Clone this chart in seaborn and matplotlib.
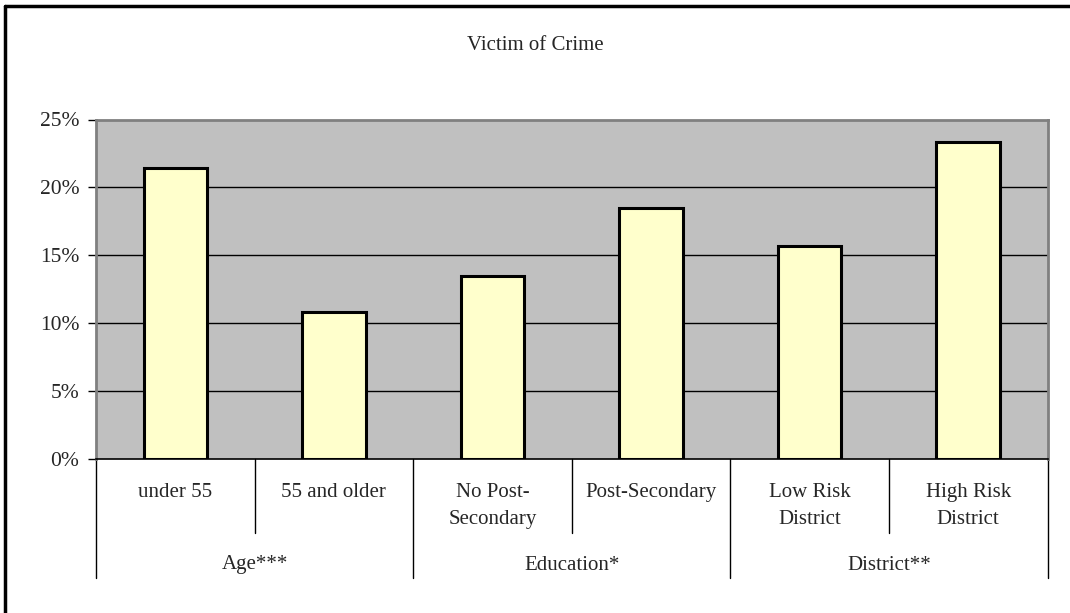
import pandas as pd
import seaborn as sns
import matplotlib.pyplot as plt
from matplotlib.lines import Line2D
from matplotlib.ticker import PercentFormatter

# Data
categories = ['under 55', '55 and older', 'No Post-\nSecondary',
              'Post-Secondary', 'Low Risk\nDistrict', 'High Risk\nDistrict']
groups = ['Age***', 'Education*', 'District**']
group_sizes = [2, 2, 2]
values = [21.45, 10.8, 13.5, 18.45, 15.65, 23.35]
y_ticks = [0, 5, 10, 15, 20, 25]


def main():
    sns.set_style('white')
    plt.rcParams['font.family'] = ['Liberation Serif', 'DejaVu Serif']
    fs = 15

    data = pd.DataFrame({'cat': categories, 'val': values})

    fig = plt.figure(figsize=(10.70, 6.13), dpi=100)
    ax = fig.add_axes([96 / 1070, 1 - 459 / 613,
                       951.5 / 1070, 339.5 / 613])
    ax.set_facecolor('#C0C0C0')

    sns.barplot(data=data, x='cat', y='val', color='#FFFFCC',
                saturation=1, edgecolor='black', linewidth=2.2,
                width=0.4, ax=ax, zorder=3)

    ax.set_xlim(-0.5, len(categories) - 0.5)
    ax.set_ylim(0, 25)
    ax.set_yticks(y_ticks)
    ax.yaxis.set_major_formatter(PercentFormatter(decimals=0))
    ax.tick_params(axis='y', length=6, width=1, color='black',
                   labelsize=15.5, pad=6, left=True)
    ax.set_xticks([])
    ax.set_xlabel('')
    ax.set_ylabel('')
    for t in ax.get_yticklabels():
        t.set_fontfamily(['Liberation Serif', 'DejaVu Serif'])

    # black gridlines
    for y in y_ticks[1:-1]:
        ax.axhline(y, color='black', linewidth=1, zorder=1)

    for side in ['top', 'right', 'left']:
        ax.spines[side].set_color('#808080')
        ax.spines[side].set_linewidth(2)
    ax.spines['bottom'].set_color('black')
    ax.spines['bottom'].set_linewidth(1.2)
    ax.spines['bottom'].set_zorder(5)

    # multi-level category axis
    trans = ax.get_xaxis_transform()
    sub_depth = -(533 - 459) / 339.5
    grp_depth = -(578 - 459) / 339.5
    for i, lab in enumerate(categories):
        ax.text(i, -(483 - 459) / 339.5, lab, transform=trans,
                ha='center', va='top', fontsize=fs, linespacing=1.6)
    edges = [-0.5]
    for n in group_sizes:
        edges.append(edges[-1] + n)
    for i in range(len(categories) + 1):
        x = i - 0.5
        depth = grp_depth if x in edges else sub_depth
        ax.add_line(Line2D([x, x], [0, depth], transform=trans,
                           color='black', linewidth=1, clip_on=False))
    for g, lab in enumerate(groups):
        mid = (edges[g] + edges[g + 1]) / 2
        ax.text(mid, -(565 - 459) / 339.5, lab, transform=trans,
                ha='center', va='center', fontsize=fs)

    fig.text(0.5, 1 - 46 / 613, 'Victim of Crime', ha='center',
             va='center', fontsize=fs)

    # outer chart border (left and top edges visible)
    fig.add_artist(Line2D([5 / 1070, 5 / 1070], [0, 1 - 6 / 613],
                          transform=fig.transFigure, color='black',
                          linewidth=2.5))
    fig.add_artist(Line2D([5 / 1070, 1], [1 - 6 / 613, 1 - 6 / 613],
                          transform=fig.transFigure, color='black',
                          linewidth=2.5))

    fig.savefig('out.png', dpi=100, facecolor='white')


if __name__ == '__main__':
    main()
